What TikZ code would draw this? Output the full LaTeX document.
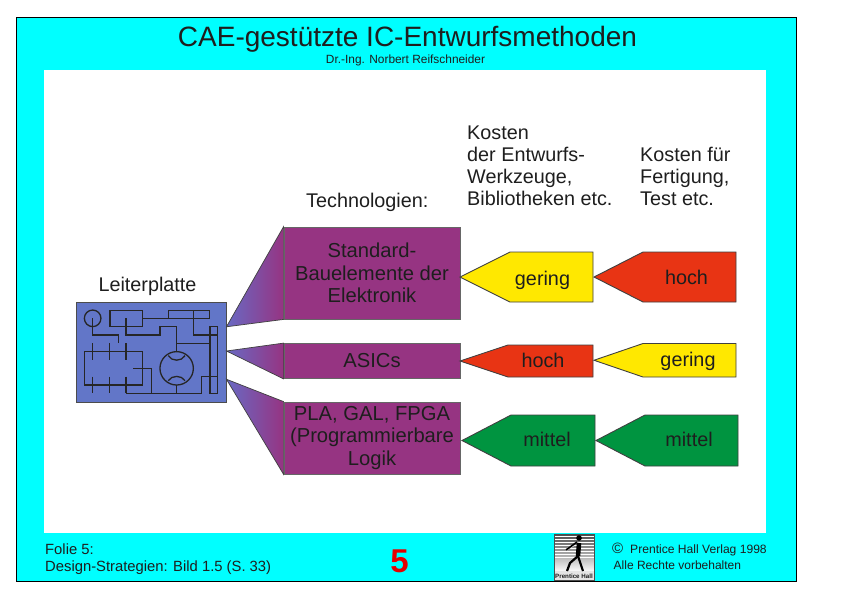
\documentclass[tikz,border=0pt]{standalone}
\usepackage{fontspec}
\setmainfont{Liberation Sans}
\usetikzlibrary{positioning,calc}
\definecolor{frame}{RGB}{0,255,255}
\definecolor{boardblue}{RGB}{98,118,200}
\definecolor{techpurple}{RGB}{150,52,130}
\definecolor{funnelblue}{RGB}{105,105,195}
\definecolor{costyellow}{RGB}{255,232,0}
\definecolor{costred}{RGB}{232,52,20}
\definecolor{costgreen}{RGB}{0,148,64}
\definecolor{ink}{RGB}{30,30,30}
\tikzstyle{every node} = [text=ink, inner sep=0pt]
\tikzstyle{tech} = [draw=black!60, line width=0.8pt, fill=techpurple, minimum width=176pt, align=center, font=\fontsize{20.2}{22.3}\selectfont]
\tikzstyle{cost} = [anchor=base, font=\fontsize{19.8}{22}\selectfont]
\tikzstyle{head} = [align=left, anchor=north west, font=\fontsize{19.8}{22}\selectfont]
\tikzstyle{wire} = [line width=1.3pt, black!85]
\tikzstyle{funnel} = [draw=black!75, line width=0.7pt, left color=funnelblue, right color=techpurple]

\begin{document}
\begin{tikzpicture}[x=1pt,y=-1pt]
    \useasboundingbox (0,0) rectangle (842,595);
    \fill[white] (0,0) rectangle (842,595);
    \draw[fill=frame, line width=0.8pt] (16.5,17.5) rectangle (796.5,581);
    \fill[white] (44,70) rectangle (766,533);

    % title
    \node[font=\fontsize{28}{30}\selectfont] (title) at (407.5,39) {CAE-gestützte IC-Entwurfsmethoden};
    \node[font=\fontsize{11.9}{13}\selectfont] (author) at (405.5,60) {Dr.-Ing. Norbert Reifschneider};

    % column heads
    \node[head] (headtool) at (467,126) {Kosten\\der Entwurfs-\\Werkzeuge,\\Bibliotheken etc.};
    \node[head] (headfab) at (640,147) {Kosten für\\Fertigung,\\Test etc.};
    \node[head] (headtech) at (306,193) {Technologien:};

    % board and technologies
    \node[draw=black!70, line width=0.9pt, fill=boardblue, minimum width=150pt, minimum height=100pt] (board) at (151,352) {};
    \node[above=6pt of board, xshift=-3.5pt, font=\fontsize{19.8}{22}\selectfont] (boardlabel) {Leiterplatte};

    \node[tech, minimum height=92pt] (std) at (372,273) {Standard-\\Bauelemente der\\Elektronik};
    \node[tech, minimum height=35pt] (asic) at (372,361) {ASICs};
    \node[tech, minimum height=72pt] (pla) at (372,438) {PLA, GAL, FPGA\\(Programmierbare\\Logik};

    \draw[funnel] ($(board.north east)!.25!(board.south east)$) -- (std.north west) -- (std.south west) -- cycle;
    \draw[funnel] ($(board.north east)!.49!(board.south east)$) -- (asic.north west) -- (asic.south west) -- cycle;
    \draw[funnel] ($(board.north east)!.77!(board.south east)$) -- (pla.north west) -- (pla.south west) -- cycle;

    % cost arrows: name/tip/shoulder/right/top/bottom/colour/text/text x/baseline
    \foreach \nm/\tip/\sh/\rt/\tp/\bt/\col/\txt/\tx/\ty in {
        stdtool/460/510/593/252/302/costyellow/gering/542.5/285,
        stdfab/594/643/736/252/302/costred/hoch/686.5/284.5,
        asictool/460/508/593/345/377/costred/hoch/543/367,
        asicfab/594/643/736/343.5/377/costyellow/gering/688/366,
        platool/462/511/595/415/466/costgreen/mittel/547/446,
        plafab/596/645/738/415/466/costgreen/mittel/689/446} {
        \draw[fill=\col, draw=black!75, line width=0.9pt] (\tip,{(\tp+\bt)/2}) -- (\sh,\tp) -- (\rt,\tp) -- (\rt,\bt) -- (\sh,\bt) -- cycle;
        \node[cost] (\nm) at (\tx,\ty) {\txt};
    }

    % circuit on the board
    \begin{scope}[xshift=60pt,yshift=-260pt,x=0.3333pt,y=-0.3333pt]
        \draw[wire] (98,175) circle[radius=8.3pt];
        \draw[wire] (98,175) -- (98,225) -- (175,225) -- (175,250);
        \draw[wire] (150,152) rectangle (248,200);
        \draw[wire] (198,175) -- (198,225) -- (300,225) -- (300,200) -- (350,200) -- (350,275);
        \draw[wire] (248,175) -- (325,175) -- (325,152) -- (448,152) -- (448,175) -- (325,175);
        \draw[wire] (400,152) -- (400,225) -- (472,225);
        \draw[wire] (450,200) rectangle (472,400);
        \draw[wire] (350,250) -- (450,250);
        \draw[wire] (350,325) circle[radius=16.7pt];
        \draw[wire] (325,287) .. controls (335,305) and (365,305) .. (375,287);
        \draw[wire] (325,362) .. controls (335,345) and (365,345) .. (375,362);
        \draw[wire] (73,275) rectangle (248,375);
        \foreach \px in {98,148,198} {
            \draw[wire] (\px,250) -- (\px,300);
            \draw[wire] (\px,350) -- (\px,400);
        }
        \draw[wire] (220,325) -- (275,325) -- (275,400);
        \draw[wire] (198,400) -- (425,400) -- (425,350) -- (472,350);
        \draw[wire] (350,375) -- (350,400);
    \end{scope}

    % footer
    \node[anchor=west, font=\fontsize{14.8}{15}\selectfont] (foil) at (45,549) {Folie 5:};
    \node[anchor=west, font=\fontsize{14.8}{15}\selectfont] (source) at (45,568) {Design-Strategien: Bild 1.5 (S. 33)};
    \node[font=\bfseries\fontsize{33}{36}\selectfont, text=red!90!black] (number) at (399.5,561) {5};

    % logo
    \shade[top color=black!70, bottom color=white] (554,534) rectangle (594,572);
    \foreach \sy in {536,539,...,557} {
        \draw[white, line width=0.7pt] (554,\sy) -- (594,\sy);
    }
    \fill[black!10] (554,571) rectangle (594,580.5);
    \draw[black!70, line width=0.7pt] (554,534) rectangle (594,580.5);
    \fill[black] (579,538) circle[radius=2.8pt];
    \draw[black, line width=4.5pt] (579,543) -- (578,556);
    \draw[black!15, line width=2pt] (574,545) -- (566,550);
    \draw[black, line width=1.6pt] (577,542) -- (566,550);
    \draw[black, line width=2.2pt] (578,556) -- (570,563) -- (567,571);
    \draw[black, line width=2.2pt] (578,556) -- (583,571);
    \node[font=\bfseries\fontsize{6.2}{7}\selectfont] (logotext) at (574,576) {Prentice Hall};

    % copyright
    \node[anchor=west, font=\fontsize{15}{15}\selectfont] (copymark) at (612,548.5) {©};
    \node[anchor=west, font=\fontsize{12.1}{13}\selectfont] (publisher) at (630,550.5) {Prentice Hall Verlag 1998};
    \node[anchor=west, font=\fontsize{12}{13}\selectfont] (rights) at (613.5,565.5) {Alle Rechte vorbehalten};
\end{tikzpicture}
\end{document}
